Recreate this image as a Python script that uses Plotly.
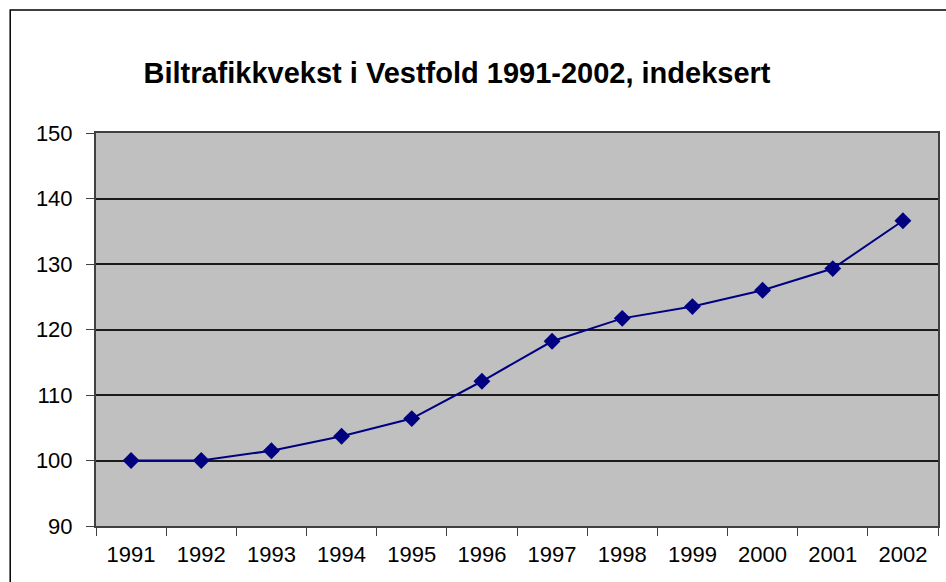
import plotly.graph_objects as go

years = ["1991", "1992", "1993", "1994", "1995", "1996", "1997", "1998", "1999", "2000", "2001", "2002"]
index_values = [100.0, 100.0, 101.5, 103.7, 106.4, 112.1, 118.2, 121.7, 123.5, 126.0, 129.3, 136.6]
y_ticks = [90, 100, 110, 120, 130, 140, 150]
title_text = "Biltrafikkvekst i Vestfold 1991-2002, indeksert"

FONT = "Liberation Sans, Arial, sans-serif"

L, R, T, B = 96, 6, 133, 56
PW, PH = 946 - L - R, 582 - T - B

fig = go.Figure()
fig.add_trace(go.Scatter(
    x=years, y=index_values, mode="lines+markers",
    line=dict(color="#000080", width=2),
    marker=dict(symbol="diamond", size=13, color="#000080"),
    showlegend=False,
))

fig.update_layout(
    width=946, height=582,
    margin=dict(l=L, r=R, t=T, b=B),
    paper_bgcolor="white", plot_bgcolor="#C0C0C0",
    font=dict(family=FONT, size=22, color="black"),
    title=dict(text="<b>" + title_text + "</b>", x=457 / 946, xanchor="center",
               y=1 - 73 / 582, yanchor="middle",
               font=dict(family=FONT, size=29, color="black")),
    xaxis=dict(type="category", range=[-0.5, len(years) - 0.5],
               tickson="boundaries", ticks="outside", ticklen=8,
               tickcolor="#404040", showgrid=False, showline=True, linecolor="#404040",
               linewidth=2, mirror=True, ticklabelstandoff=8,
               tickfont=dict(family=FONT, size=22)),
    yaxis=dict(range=[90, 150], tickvals=y_ticks, ticks="outside", ticklen=8,
               tickcolor="#404040", showgrid=True, gridcolor="#1a1a1a", gridwidth=1.5,
               showline=True, linecolor="#404040", linewidth=2, mirror=True,
               zeroline=False, ticklabelstandoff=9,
               tickfont=dict(family=FONT, size=22)),
    shapes=[dict(type="rect", xref="paper", yref="paper",
                 x0=(10 - L) / PW, x1=1.2, y0=-0.3, y1=(582 - B - 10) / PH,
                 line=dict(color="black", width=1.5), fillcolor="rgba(0,0,0,0)",
                 layer="below")],
)

fig.write_html("out.html", config={"displayModeBar": False})
with open("out.html", "r", encoding="utf-8") as f:
    html = f.read()
html = html.replace("<head>", "<head><style>html,body{margin:0;padding:0;}</style>", 1)
with open("out.html", "w", encoding="utf-8") as f:
    f.write(html)
